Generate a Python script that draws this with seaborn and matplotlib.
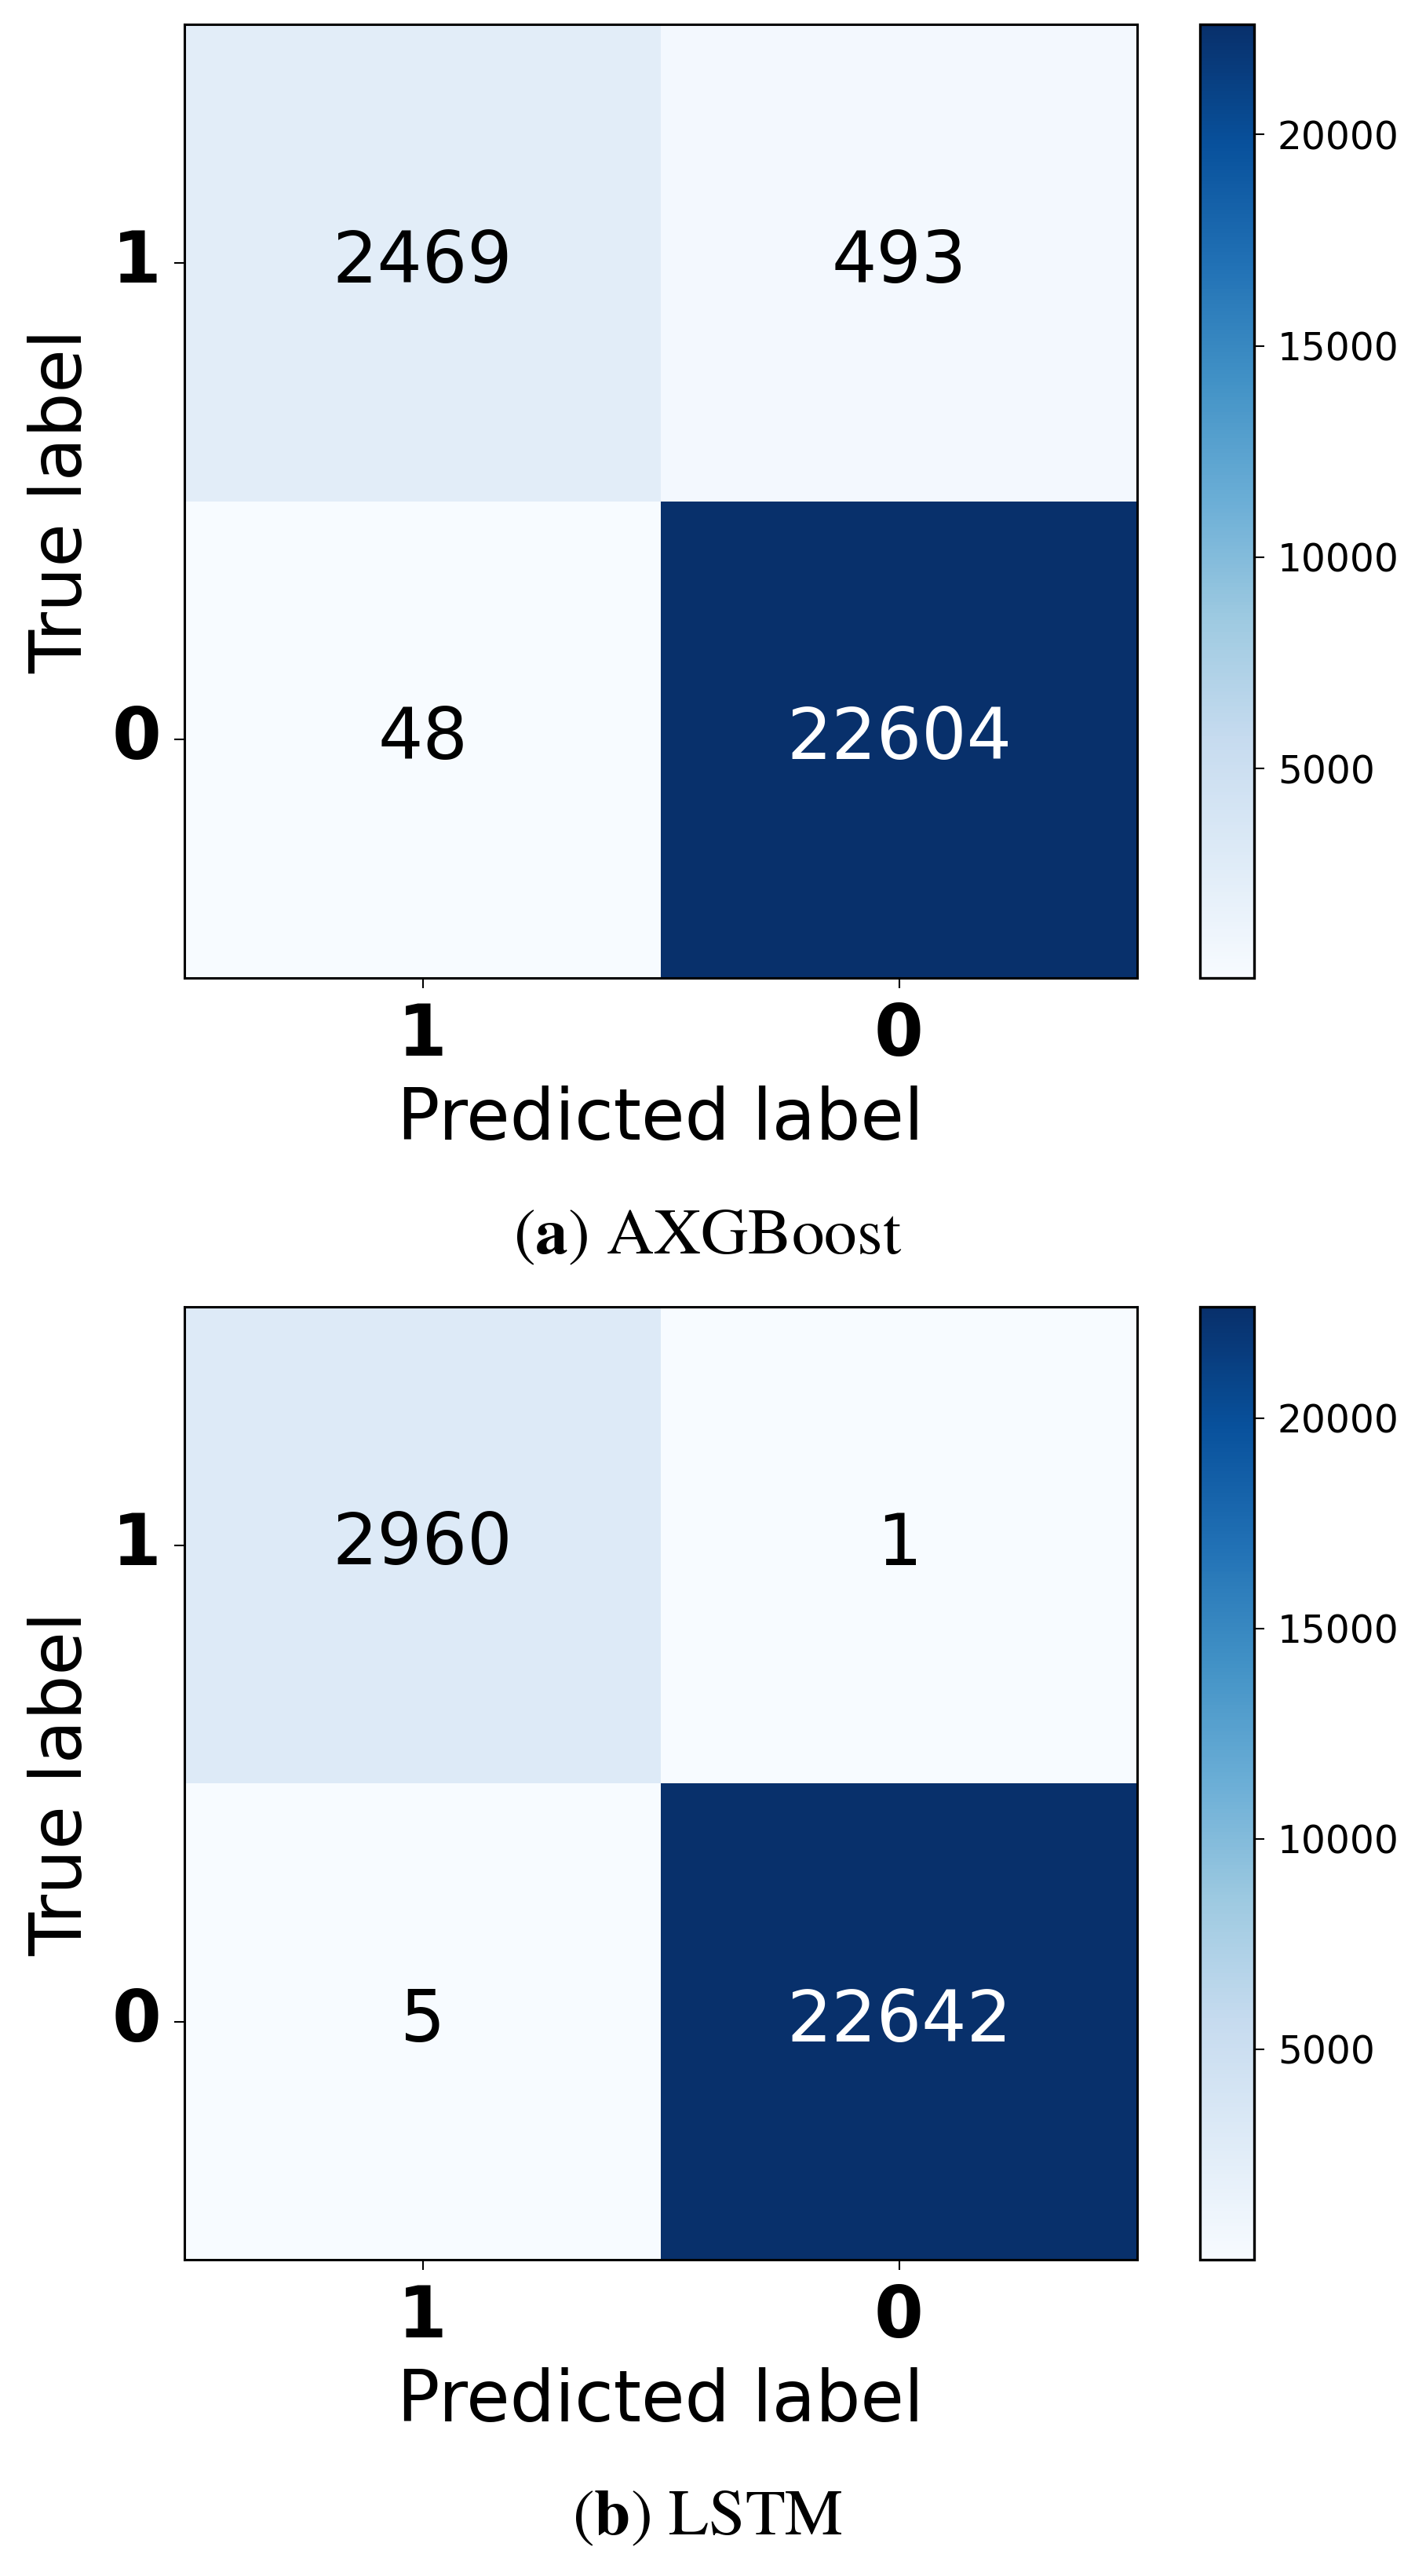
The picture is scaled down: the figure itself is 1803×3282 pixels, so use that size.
import numpy as np
import pandas as pd
import matplotlib
matplotlib.use("Agg")
import matplotlib.pyplot as plt
import seaborn as sns

# class order as shown on both axes
class_labels = ["1", "0"]

# confusion matrices (rows = true label, cols = predicted label)
axgboost_cm = [[2469, 493],
               [48, 22604]]
lstm_cm = [[2960, 1],
           [5, 22642]]

captions = [r"($\mathbf{a}$) AXGBoost", r"($\mathbf{b}$) LSTM"]
cbar_ticks = [5000, 10000, 15000, 20000]

sns.set_style("white")
plt.rcParams["font.family"] = ["DejaVu Sans"]
plt.rcParams["mathtext.fontset"] = "stix"
plt.rcParams["text.color"] = "black"
plt.rcParams["axes.labelcolor"] = "black"
plt.rcParams["xtick.color"] = "black"
plt.rcParams["ytick.color"] = "black"

W, H = 1803, 3282
fig = plt.figure(figsize=(W / 100, H / 100), dpi=100)


def px_rect(x0, x1, y0, y1):
    """figure-fraction rect from pixel box (top-left origin)"""
    return [x0 / W, 1 - y1 / H, (x1 - x0) / W, (y1 - y0) / H]


def draw_panel(cm, top, bottom, caption, cap_y):
    ax = fig.add_axes(px_rect(235, 1449, top, bottom))
    cax = fig.add_axes(px_rect(1529, 1598, top, bottom))
    df = pd.DataFrame(cm, index=class_labels, columns=class_labels)
    sns.heatmap(df, annot=True, fmt="d", cmap="Blues", ax=ax, cbar_ax=cax,
                square=False, linewidths=0,
                annot_kws={"fontsize": 65})
    # light cells get pure black text, dark cell stays white
    for t in ax.texts:
        if t.get_color() != "w":
            t.set_color("black")
    for s in ax.spines.values():
        s.set_visible(True)
        s.set_linewidth(2.2)
        s.set_color("black")
    ax.tick_params(axis="both", which="major", length=9.5, width=1.5,
                   labelsize=65, pad=12, left=True, bottom=True)
    ax.set_yticklabels(class_labels, rotation=0)
    ax.set_xticklabels(class_labels, rotation=0)
    for lab in ax.get_xticklabels() + ax.get_yticklabels():
        lab.set_fontweight("bold")
    ax.set_xlabel("Predicted label", fontsize=65, labelpad=14)
    ax.set_ylabel("True label", fontsize=65, labelpad=14)
    cb = ax.collections[0].colorbar
    cb.outline.set_visible(True)
    cb.outline.set_linewidth(2.4)
    cb.outline.set_edgecolor("black")
    cb.set_ticks(cbar_ticks)
    cax.tick_params(labelsize=35, length=9.5, width=1.5, pad=12, right=True)
    fig.text(0.5, 1 - cap_y / H, caption, ha="center", va="center",
             fontsize=60, family="STIXGeneral")


draw_panel(axgboost_cm, 31, 1246, captions[0], 1578)
draw_panel(lstm_cm, 1665, 2879, captions[1], 3210)

fig.savefig("out.png", dpi=100, facecolor="white")
